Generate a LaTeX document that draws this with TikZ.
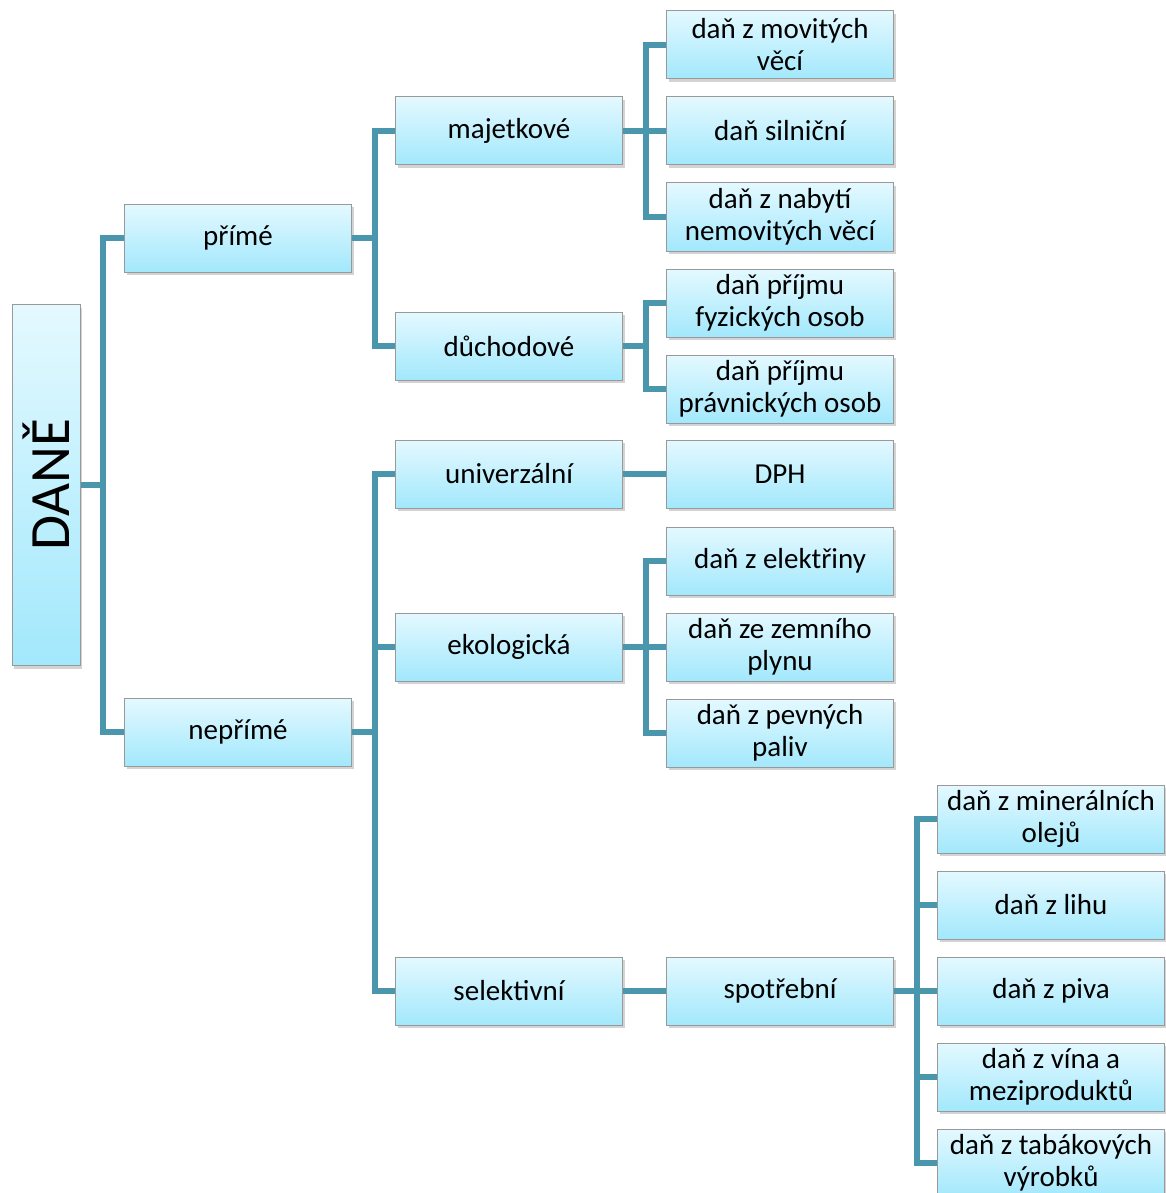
\documentclass[tikz,border=0pt]{standalone}
\usepackage{fontspec}
\usepackage{graphicx}
\setmainfont{Carlito}
\usetikzlibrary{shadows}
\definecolor{linkteal}{RGB}{74,150,172}
\definecolor{boxtop}{RGB}{228,249,255}
\definecolor{boxbottom}{RGB}{162,232,252}
\tikzset{
  box/.style={draw=black!40, line width=1pt, top color=boxtop, bottom color=boxbottom,
    minimum width=227pt, minimum height=68pt, inner sep=0pt, align=center,
    font=\fontsize{29}{32}\selectfont,
    drop shadow={shadow xshift=2pt, shadow yshift=-3pt, opacity=0.35}},
  link/.style={draw=linkteal, line width=6pt}
}

\begin{document}
\begin{tikzpicture}[x=1pt, y=-1pt]
		%%%%% START %%%%%
		\useasboundingbox (0, 0) rectangle (1166, 1193);
		
		\node[box, minimum width=68pt, minimum height=361pt, font=\fontsize{57}{60}\selectfont] (dane) at (46, 485) {\rotatebox{90}{DANĚ}};
		
		\node[box] (prime) at (238, 238) {přímé};
		\node[box] (neprime) at (238, 732) {nepřímé};
		
		\node[box] (majet) at (509, 131) {majetkové};
		\node[box] (duch) at (509, 346) {důchodové};
		\node[box] (univ) at (509, 474) {univerzální};
		\node[box] (ekol) at (509, 647) {ekologická};
		\node[box] (selek) at (509, 991) {selektivní};
		
		\node[box] (movit) at (780, 45) {daň z movitých\\věcí};
		\node[box] (silnic) at (780, 131) {daň silniční};
		\node[box] (nabyti) at (780, 217) {daň z nabytí\\nemovitých věcí};
		\node[box] (fyzic) at (780, 303) {daň příjmu\\fyzických osob};
		\node[box] (pravn) at (780, 389) {daň příjmu\\právnických osob};
		\node[box] (dph) at (780, 474) {DPH};
		\node[box] (elektr) at (780, 561) {daň z elektřiny};
		\node[box] (plyn) at (780, 647) {daň ze zemního\\plynu};
		\node[box] (paliv) at (780, 733) {daň z pevných\\paliv};
		\node[box] (spotr) at (780, 991) {spotřební};
		
		\node[box] (miner) at (1051, 819) {daň z minerálních\\olejů};
		\node[box] (lihu) at (1051, 905) {daň z lihu};
		\node[box] (piva) at (1051, 991) {daň z piva};
		\node[box] (vina) at (1051, 1077) {daň z vína a\\meziproduktů};
		\node[box] (tabak) at (1051, 1163) {daň z tabákových\\výrobků};
		
		% elbow connectors
		\foreach \from/\to in {dane/prime, dane/neprime,
			prime/majet, prime/duch,
			neprime/univ, neprime/ekol, neprime/selek,
			majet/movit, majet/silnic, majet/nabyti,
			duch/fyzic, duch/pravn,
			ekol/elektr, ekol/plyn, ekol/paliv,
			spotr/miner, spotr/lihu, spotr/piva, spotr/vina, spotr/tabak}
			\draw[link] (\from.east) -- ++(22.5, 0) |- (\to.west);
		
		% straight connectors
		\draw[link] (univ) -- (dph);
		\draw[link] (selek) -- (spotr);
		%%%%% END %%%%%
	\end{tikzpicture}
\end{document}
